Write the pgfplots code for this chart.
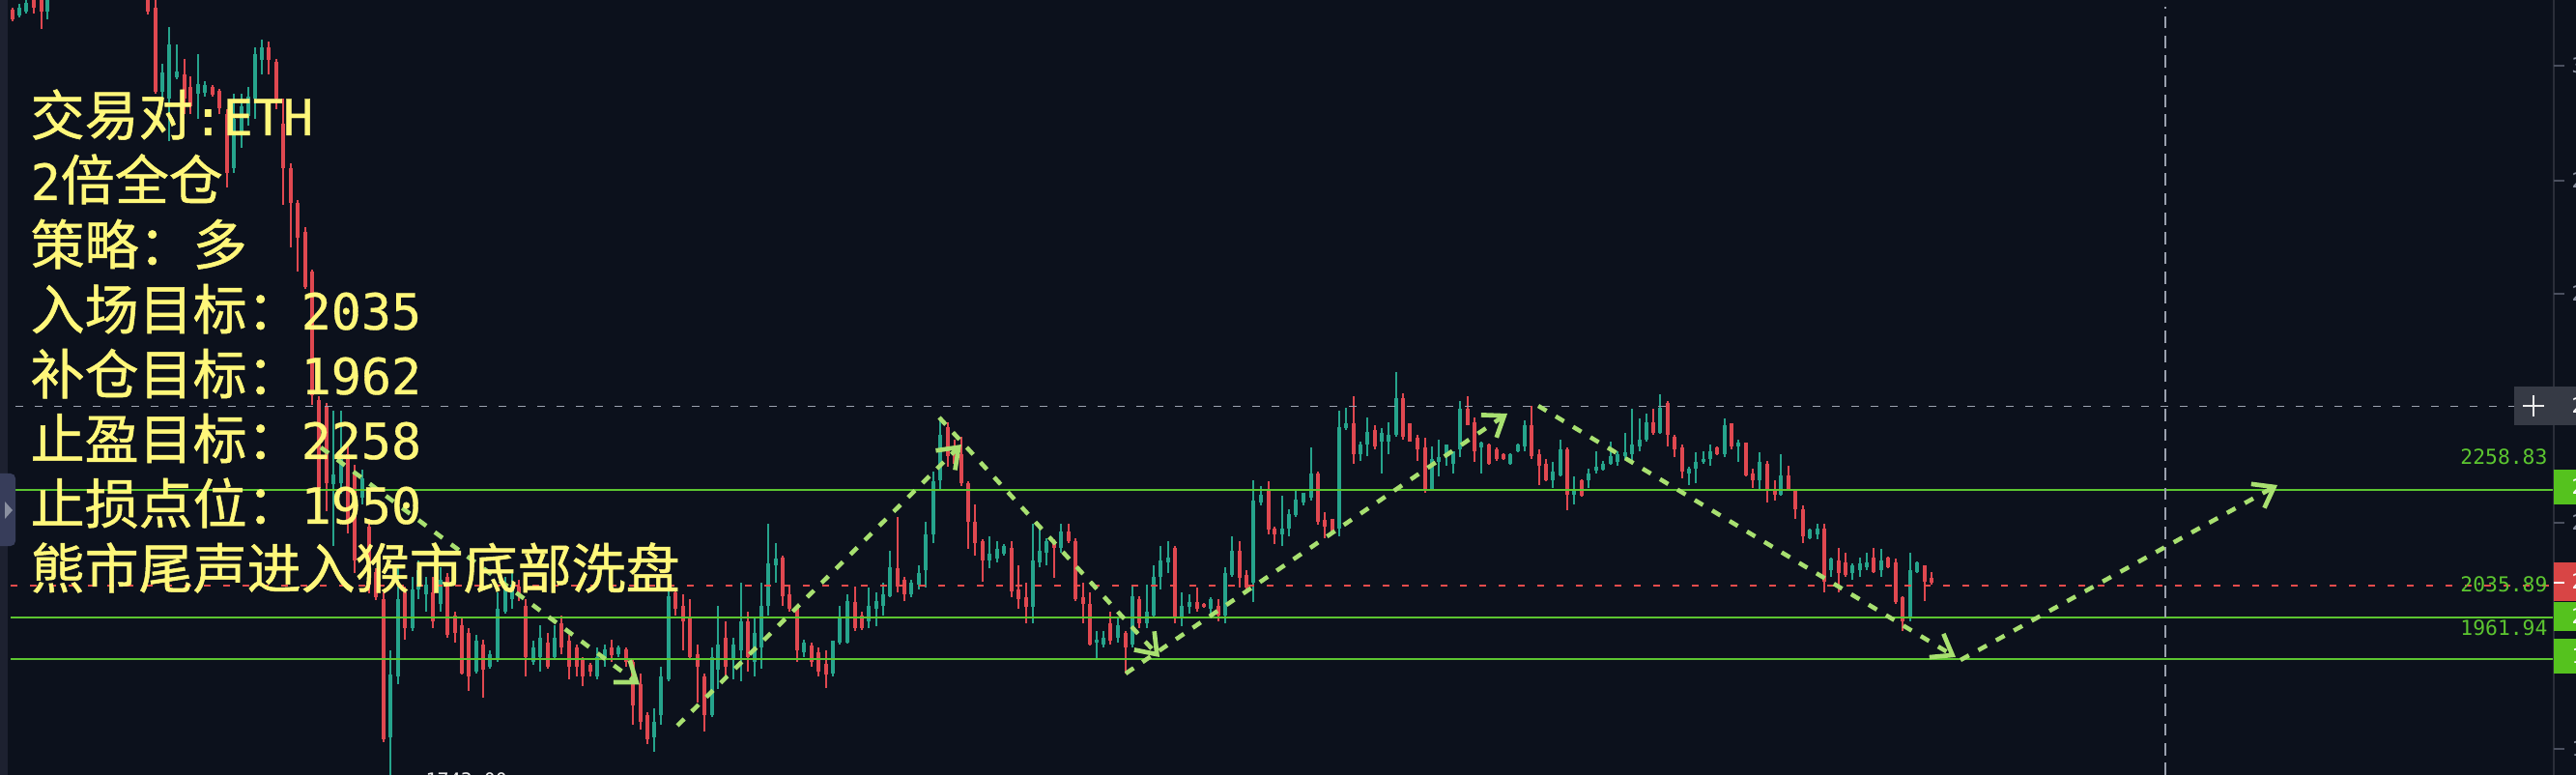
\documentclass[border=0pt]{standalone}
\usepackage{pgfplots}
\pgfplotsset{compat=1.18}
\usepackage{pgfplotstable}
\usetikzlibrary{arrows.meta}
\usepackage{fontspec}
\setmainfont{DejaVu Sans}
\newfontfamily\cjk[FakeBold=0.9]{Noto Sans CJK SC}
\newfontfamily\mono{DejaVu Sans Mono}
\newfontfamily\monob[FakeBold=0.6]{DejaVu Sans Mono}
\definecolor{bgc}{HTML}{0C111C}
\definecolor{upc}{HTML}{26A48C}
\definecolor{dnc}{HTML}{E04850}
\definecolor{glc}{HTML}{5CC530}
\definecolor{rdl}{HTML}{E84C4C}
\definecolor{gyl}{HTML}{9AA0AE}
\definecolor{arc}{HTML}{A8E070}
\definecolor{ylc}{HTML}{FFF77A}
\definecolor{panel}{HTML}{1D2130}
\definecolor{tabc}{HTML}{373D5A}
\definecolor{btn}{HTML}{363A45}
\definecolor{sep}{HTML}{2A2E39}
\definecolor{tickc}{HTML}{4A4F5E}
\definecolor{ticklab}{HTML}{8A90A0}
\definecolor{gbox}{HTML}{55C21E}
\definecolor{rbox}{HTML}{D84545}
\newcommand\M[1]{{\monob\fontsize{15.5pt}{20pt}\selectfont #1}}

\pgfplotstableread{
x o h l c
13 3377.5 3382 3350.5 3355
20 3364 3391 3359.5 3382
27 3373 3400 3368.5 3393
35 3400 3409 3368.5 3382
43 3400 3411 3332.5 3373
49 3373 3407 3355 3400
57 3410 3440 3405 3432
64 3432 3455 3420 3448
72 3448 3470 3440 3462
79 3462 3475 3438 3445
86 3445 3468 3436 3460
94 3460 3490 3452 3485
101 3485 3500 3465 3470
108 3470 3482 3448 3455
116 3455 3470 3440 3465
123 3465 3478 3445 3450
130 3450 3462 3425 3432
138 3432 3446 3418 3440
146 3440 3448 3412 3420
153 3418 3425 3366 3373
161 3382 3402 3182 3186
168 3186 3252 3171 3231
175 3171 3337 3071.5 3296.5
183 3220 3296.5 3215.5 3233.5
191 3226.75 3262.75 3134.5 3170.5
197 3197.5 3222.25 3134.5 3152.5
205 3181.75 3274 3123.25 3204.25
212 3184 3211 3175 3202
220 3197.5 3202 3175 3179.5
227 3188.5 3193 3134.5 3148
235 3134.5 3145.75 2963.5 2997.25
242 3008.5 3181.75 2997.25 3123.25
250 3085 3181.75 3055.75 3152.5
257 3130 3197.5 3107.5 3175
264 3170.5 3289.75 3123.25 3274
271 3260.5 3307.75 3226.75 3289.75
278 3289.75 3303.25 3226.75 3260.5
286 3256 3262.75 3145.75 3170.5
293 3112 3170.5 2923 3008.5
301 3008.5 3019.75 2824 2927.5
308 2927.5 2934.25 2767.75 2846.5
316 2860 2871.25 2727.25 2731.75
323 2767.75 2772.25 2457.25 2479.75
330 2468.5 2477.5 2250.25 2263.75
338 2455 2461.75 2209.75 2275
345 2272.75 2443.75 2128.75 2295.25
353 2275 2443.75 2250.25 2342.5
360 2342.5 2365 2158 2185
367 2297.5 2317.75 2065.75 2095
375 2241.25 2306.5 2225.5 2286.25
382 2173.75 2191.75 2018.5 2038.75
389 2068 2077 2002.75 2009.5
397 2005 2020.75 1672 1678.75
404 1683.25 1885.75 1590 1829.5
412 1825 2079.25 1807 2005
419 2020.75 2034.25 1910.5 1937.5
427 1937.5 2056.75 1930.75 2027.5
433 2027.5 2095 2005 2072.5
441 2016.25 2056.75 1975.75 2038.75
448 2020.75 2056.75 1937.5 1953.25
456 1993.75 2079.25 1975.75 2050
463 2056.75 2065.75 1915 1921.75
471 1966.75 1975.75 1903.75 1926.25
478 1944.25 1960 1829.5 1831.75
485 1926.25 1937.5 1791.25 1825
493 1836.25 1921.75 1831.75 1908.25
500 1899.25 1910.5 1775.5 1840.75
507 1847.5 1885.75 1843 1876.75
515 1863.25 2020.75 1858.75 1982.5
523 1975.75 2056.75 1971.25 2027.5
530 2005 2065.75 1982.5 2038.75
537 2034.25 2050 2000.5 2018.5
544 1989.25 2005 1825 1870
552 1858.75 1908.25 1852 1892.5
559 1870 1944.25 1836.25 1915
567 1903.75 1926.25 1843 1847.5
574 1870 1944.25 1865.5 1915
581 1948.75 1966.75 1876.75 1892.5
589 1908.25 1921.75 1818.25 1847.5
597 1892.5 1899.25 1825 1847.5
603 1863.25 1870 1802.5 1825
611 1852 1856.5 1825 1836.25
618 1825 1892.5 1818.25 1870
626 1865.5 1899.25 1847.5 1888
633 1892.5 1910.5 1858.75 1874.5
640 1876.75 1897 1870 1892.5
648 1888 1892.5 1847.5 1858.75
655 1858.75 1863.25 1712.5 1757.5
663 1807 1831.75 1701.25 1719.25
670 1735 1741.75 1667.5 1678.75
677 1683.25 1750.75 1649.5 1719.25
684 1735 1847.5 1712.5 1825
692 1818.25 2056.75 1813.75 2011.75
699 2020.75 2027.5 1966.75 1982.5
707 1989.25 2016.25 1885.75 1953.25
714 1960 2005 1863.25 1870
722 1876.75 1899.25 1764.25 1847.5
729 1825 1831.75 1696.75 1735
737 1735 1892.5 1730.5 1870
743 1840.75 1989.25 1795.75 1899.25
751 1915 1953.25 1825 1847.5
759 1863.25 1915 1818.25 1899.25
767 1885.75 2043.25 1813.75 1953.25
774 1953.25 1975.75 1836.25 1870
781 1858.75 1960 1825 1926.25
788 1892.5 2043.25 1843 1989.25
795 1989.25 2180.5 1966.75 2088.25
803 2083.75 2135.5 2043.25 2099.5
810 2101.75 2106.25 1989.25 2011.75
817 2016.25 2034.25 1975.75 1982.5
825 1987 1989.25 1858.75 1885.75
832 1881.25 1910.5 1870 1903.75
840 1897 1903.75 1847.5 1858.75
847 1881.25 1892.5 1825 1836.25
855 1854.25 1885.75 1798 1829.5
862 1831.75 1908.25 1825 1908.25
869 1903.75 1989.25 1899.25 1960
877 1903.75 2016.25 1901.5 2000.5
885 1998.25 2034.25 1930.75 1937.5
892 1966.75 1975.75 1933 1937.5
899 1953.25 2032 1937.5 1989.25
907 1982.5 2020.75 1942 2000.5
914 1989.25 2043.25 1966.75 2016.25
921 2011.75 2117.5 2009.5 2079.25
929 2077 2196.25 2020.75 2034.25
936 2050 2056.75 2000.5 2016.25
943 2016.25 2050 2009.5 2043.25
951 2038.75 2083.75 2027.5 2065.75
958 2072.5 2185 2032 2155.75
966 2155.75 2302 2135.5 2279.5
973 2281.75 2428 2259.25 2387.5
981 2405.5 2416.75 2313.25 2338
988 2358.25 2376.25 2308.75 2320
995 2342.5 2383 2268.25 2275
1002 2275 2279.5 2122 2185
1009 2185 2225.5 2106.25 2135.5
1017 2140 2144.5 2045.5 2095
1024 2095 2151.25 2077 2110.75
1032 2099.5 2140 2090.5 2122
1039 2110.75 2133.25 2106.25 2128.75
1047 2124.25 2140 2009.5 2023
1054 2027.5 2083.75 1982.5 2005
1062 2009.5 2043.25 1948.75 1987
1069 1987 2180.5 1948.75 2095
1076 2090.5 2178.25 2079.25 2117.5
1083 2113 2146.75 2083.75 2140
1091 2135.5 2144.5 2054.5 2124.25
1098 2124.25 2180.5 2113 2162.5
1106 2162.5 2180.5 2135.5 2140
1113 2140 2146.75 2000.5 2005
1121 2009.5 2043.25 1948.75 1993.75
1128 1993.75 2020.75 1897 1899.25
1135 1903.75 1930.75 1865.5 1910.5
1142 1899.25 1930.75 1892.5 1915
1149 1948.75 1975.75 1899.25 1908.25
1157 1915 1960 1903.75 1944.25
1165 1926.25 1930.75 1831.75 1892.5
1172 1899.25 2034.25 1892.5 2011.75
1179 2005 2011.75 1937.5 1948.75
1187 1948.75 2038.75 1937.5 1975.75
1194 1966.75 2083.75 1964.5 2056.75
1201 2056.75 2128.75 2027.5 2095
1209 2090.5 2140 2065.75 2101.75
1216 2124.25 2128.75 1948.75 1960
1223 1960 2020.75 1942 1989.25
1231 1987 2016.25 1971.25 1998.25
1239 1998.25 2032 1975.75 1982.5
1246 1993.75 1996 1984.75 1987
1253 1982.5 2009.5 1966.75 2005
1261 1989.25 2005 1953.25 1966.75
1268 1966.75 2079.25 1948.75 2065.75
1275 2061.25 2151.25 2056.75 2117.5
1283 2117.5 2140 2032 2054.5
1290 2061.25 2072.5 2027.5 2032
1297 2043.25 2281.75 1998.25 2234.5
1305 2230 2268.25 2223.25 2248
1313 2259.25 2279.5 2155.75 2167
1319 2169.25 2173.75 2133.25 2155.75
1327 2155.75 2245.75 2128.75 2169.25
1334 2169.25 2214.25 2151.25 2203
1341 2200.75 2259.25 2196.25 2236.75
1349 2230 2252.5 2223.25 2252.5
1357 2241.25 2358.25 2234.5 2297.5
1364 2297.5 2302 2178.25 2185
1371 2189.5 2207.5 2146.75 2173.75
1379 2191.75 2191.75 2158 2158
1386 2169.25 2443.75 2151.25 2405.5
1393 2403.25 2450.5 2398.75 2414.5
1401 2414.5 2477.5 2320 2342.5
1408 2342.5 2371.75 2326.75 2365
1415 2365 2428 2338 2394.25
1423 2398.75 2410 2353.75 2360.5
1430 2371.75 2403.25 2297.5 2392
1437 2371.75 2416.75 2342.5 2387.5
1445 2387.5 2533.75 2383 2473
1452 2473 2484.25 2376.25 2383
1459 2414.5 2414.5 2371.75 2371.75
1467 2380.75 2387.5 2326.75 2353.75
1475 2358.25 2380.75 2252.5 2259.25
1482 2259.25 2360.5 2257 2331.25
1489 2324.5 2376.25 2290.75 2335.75
1497 2342.5 2365 2315.5 2365
1504 2320 2349.25 2297.5 2349.25
1511 2353.75 2466.25 2335.75 2448.25
1519 2448.25 2477.5 2410 2410
1526 2416.75 2428 2324.5 2349.25
1533 2358.25 2371.75 2297.5 2369.5
1541 2365 2367 2318 2320
1549 2353.75 2358.25 2326.75 2331.25
1556 2342.5 2344 2329 2331.25
1563 2320 2344 2318 2342.5
1571 2349.25 2367 2347 2365
1578 2360.5 2421.25 2349.25 2410
1585 2410 2455 2331.25 2338
1593 2342.5 2353.75 2270.5 2315.5
1600 2320 2331.25 2279.5 2281.75
1607 2281.75 2324.5 2263.75 2302
1615 2293 2376.25 2290.75 2353.75
1622 2353.75 2358.25 2212 2248
1629 2248 2290.75 2225.5 2259.25
1637 2281.75 2284 2243 2245.75
1644 2281.75 2308.75 2263.75 2297.5
1652 2304.25 2349.25 2297.5 2313.25
1659 2306.5 2326.75 2304.25 2320
1667 2320 2371.75 2317.75 2338
1674 2324.5 2349.25 2315.5 2342.5
1682 2338 2392 2331.25 2347
1689 2342.5 2448.25 2326.75 2365
1697 2360.5 2425.75 2349.25 2376.25
1704 2376.25 2437 2371.75 2416.75
1711 2416.75 2448.25 2387.5 2392
1718 2392 2482 2389.75 2450.5
1726 2461.75 2466.25 2360.5 2387.5
1733 2383 2387.5 2335.75 2353.75
1741 2358.25 2365 2286.25 2302
1748 2297.5 2313.25 2270.5 2308.75
1755 2308.75 2347 2275 2324.5
1763 2324.5 2349.25 2320 2331.25
1770 2331.25 2365 2315.5 2349.25
1777 2358.25 2360 2340 2342.5
1785 2342.5 2425.75 2335.75 2410
1792 2414.5 2414.5 2353.75 2360.5
1799 2360.5 2376.25 2324.5 2369.5
1807 2369.5 2369.5 2290.75 2293
1814 2297.5 2308.75 2263.75 2281.75
1821 2281.75 2347 2259.25 2324.5
1829 2320 2326.75 2230 2259.25
1837 2259.25 2281.75 2234.5 2248
1843 2248 2342.5 2245.75 2293
1851 2293 2315.5 2257 2257.5
1858 2257 2259.25 2191.75 2214.25
1866 2214.25 2223.25 2135.5 2151.25
1873 2146.75 2169 2145 2167
1881 2155.75 2180.5 2144.5 2169.25
1888 2169.25 2180.5 2020.75 2045.5
1895 2072.5 2101.75 2056.75 2099.5
1903 2095 2124.25 2020.75 2065.75
1910 2090.5 2113 2056.75 2061.25
1917 2065.75 2088.25 2050 2083.75
1925 2072.5 2101.75 2056.75 2088.25
1932 2079.25 2113 2072.5 2090.5
1939 2101.75 2124.25 2065.75 2068
1947 2072.5 2122 2056.75 2095
1954 2101.75 2104 2077 2079.25
1962 2090.5 2099.5 1993.75 1998.25
1969 2009.5 2011.75 1930.75 1953.25
1977 1960 2113 1953.25 2072.5
1984 2068 2092.5 2066 2090.5
1992 2083.75 2083.75 2000.5 2045.5
1999 2054.5 2068 2038.75 2043.25
}\candles

\begin{document}
\begin{tikzpicture}
\fill[bgc] (0,0) rectangle (799.8pt,240.6pt);
\begin{axis}[at={(0pt,0pt)}, anchor=south west,
  width=799.8pt, height=240.6pt, scale only axis,
  xmin=0, xmax=2666, ymin=1595.5, ymax=3400,
  axis lines=none, ticks=none, clip=true]
% candle wicks
\addplot[draw=none, mark=none, forget plot,
  error bars/.cd, y dir=both, y explicit, error mark=none,
  error bar style={draw=upc, line width=0.38pt}]
  table[x=x, y expr={\thisrow{c}>=\thisrow{o} ? (\thisrow{h}+\thisrow{l})/2 : nan},
        y error expr={(\thisrow{h}-\thisrow{l})/2}] {\candles};
\addplot[draw=none, mark=none, forget plot,
  error bars/.cd, y dir=both, y explicit, error mark=none,
  error bar style={draw=dnc, line width=0.38pt}]
  table[x=x, y expr={\thisrow{c}<\thisrow{o} ? (\thisrow{h}+\thisrow{l})/2 : nan},
        y error expr={(\thisrow{h}-\thisrow{l})/2}] {\candles};
% candle bodies
\addplot[draw=none, mark=none, forget plot,
  error bars/.cd, y dir=both, y explicit, error mark=none,
  error bar style={draw=upc, line width=1.2pt}]
  table[x=x, y expr={\thisrow{c}>=\thisrow{o} ? (\thisrow{o}+\thisrow{c})/2 : nan},
        y error expr={max(abs(\thisrow{c}-\thisrow{o})/2,2)}] {\candles};
\addplot[draw=none, mark=none, forget plot,
  error bars/.cd, y dir=both, y explicit, error mark=none,
  error bar style={draw=dnc, line width=1.2pt}]
  table[x=x, y expr={\thisrow{c}<\thisrow{o} ? (\thisrow{o}+\thisrow{c})/2 : nan},
        y error expr={max(abs(\thisrow{c}-\thisrow{o})/2,2)}] {\candles};
% level lines
\addplot[glc, line width=0.6pt] coordinates {(16,2258.83) (2643,2258.83)};
\addplot[glc, line width=0.6pt] coordinates {(11,1961.94) (2643,1961.94)};
\addplot[glc, line width=0.6pt] coordinates {(11,1865.5) (2643,1865.5)};
\addplot[rdl, line width=0.55pt, dash pattern=on 2.2pt off 3.8pt] coordinates {(11,2035.89) (2643,2035.89)};
\addplot[gyl, line width=0.45pt, dash pattern=on 2.5pt off 3.5pt] coordinates {(16,2453.9) (2602,2453.9)};
\addplot[gyl, line width=0.45pt, dash pattern=on 3.8pt off 2.3pt] coordinates {(2241,1595.5) (2241,3385)};
% path arrows
\pgfplotsset{zz/.style={arc, line width=1.35pt, dash pattern=on 3pt off 3.3pt,
  -{Straight Barb[length=5.8pt,width=8.5pt,line width=1.4pt]}}}
\addplot[zz] coordinates {(332,2358.25) (662,1806)};
\addplot[zz] coordinates {(701,1710.25) (995,2365)};
\addplot[zz] coordinates {(972,2428) (1200,1870)};
\addplot[zz] coordinates {(1165,1831.75) (1560,2437)};
\addplot[zz] coordinates {(1592,2455) (2024,1870)};
\addplot[zz] coordinates {(2029,1863.25) (2357,2270.5)};
\end{axis}

\begin{scope}[x=0.3pt, y=-0.3pt, shift={(0pt,240.6pt)}]
% left panel
\fill[panel] (0,0) rectangle (8,802);
\fill[tabc, rounded corners=1.5pt] (-6,490) rectangle (16,565);
\fill[ticklab] (5,519) -- (5,537) -- (13,528) -- cycle;
% right price scale
\draw[sep, line width=0.5pt] (2643,0) -- (2643,802);
\foreach \yy/\lab in {68/3,187/2,304/2,541/2,775/1}{
  \draw[tickc, line width=0.5pt] (2643,\yy) -- (2654,\yy);
  \node[anchor=west, inner sep=0, text=ticklab, font=\mono\fontsize{6.4pt}{7pt}\selectfont] at (2661,\yy) {\lab};
}
\fill[btn] (2602,400) rectangle (2666,440);
\draw[white!85!gray, line width=0.5pt] (2611,420) -- (2633,420) (2622,409) -- (2622,431);
\node[anchor=west, inner sep=0, text=white, font=\mono\fontsize{6.4pt}{7pt}\selectfont] at (2661,420) {2};
\fill[gbox] (2643,486) rectangle (2666,522);
\node[anchor=west, inner sep=0, text=white, font=\mono\fontsize{6.4pt}{7pt}\selectfont] at (2661,504) {2};
\fill[rbox] (2643,582) rectangle (2666,622);
\draw[white, line width=0.6pt] (2643,603) -- (2654,603);
\node[anchor=west, inner sep=0, text=white, font=\mono\fontsize{6.4pt}{7pt}\selectfont] at (2661,602) {2};
\fill[gbox] (2643,623) rectangle (2666,653);
\node[anchor=west, inner sep=0, text=white, font=\mono\fontsize{6.4pt}{7pt}\selectfont] at (2661,638) {2};
\fill[gbox] (2643,661) rectangle (2666,697);
\node[anchor=west, inner sep=0, text=white, font=\mono\fontsize{6.4pt}{7pt}\selectfont] at (2661,679) {1};
% level labels
\begin{scope}[every node/.style={anchor=base east, inner sep=0, text=glc, font=\mono\fontsize{6.4pt}{7pt}\selectfont}]
\node at (2637,481) {2258.83};
\node at (2637,612) {2035.89};
\node at (2637,657) {1961.94};
\end{scope}
% bottom price tag (cut by edge)
\node[anchor=north west, inner sep=0, text=white!85!gray, font=\mono\fontsize{6pt}{7pt}\selectfont] at (440,799) {1743.00};
% strategy text
\begin{scope}[every node/.style={anchor=base west, inner sep=0, text=ylc, font=\cjk\fontsize{16.8pt}{20pt}\selectfont}]
\node at (31,140) {交易对\M{:ETH}};
\node at (31,207) {\M{2}倍全仓};
\node at (31,274) {策略：多};
\node at (31,341) {入场目标：\M{2035}};
\node at (31,408) {补仓目标：\M{1962}};
\node at (31,475) {止盈目标：\M{2258}};
\node at (31,542) {止损点位：\M{1950}};
\node at (31,609) {熊市尾声进入猴市底部洗盘};
\end{scope}
\end{scope}
\pgfresetboundingbox
\path[use as bounding box] (0,0) rectangle (799.8pt,240.6pt);
\end{tikzpicture}
\end{document}
